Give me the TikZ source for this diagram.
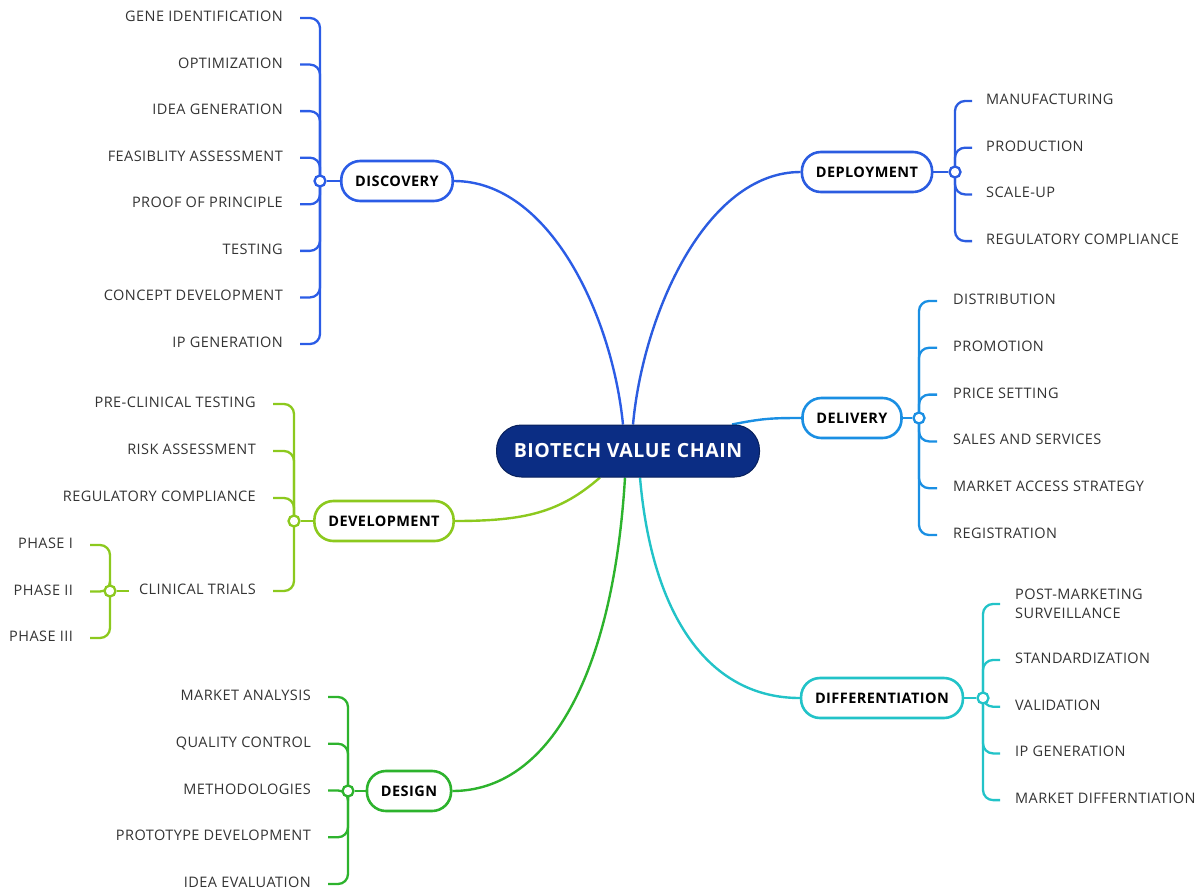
\documentclass[tikz,border=0pt]{standalone}
\usepackage{fontspec}
\setmainfont{Open Sans}[LetterSpace=3]
\usetikzlibrary{positioning,backgrounds,calc}
\definecolor{discov}{HTML}{2B5CE6}
\definecolor{deploy}{HTML}{2B5CE0}
\definecolor{deliv}{HTML}{1A8FE3}
\definecolor{differ}{HTML}{22C3C8}
\definecolor{design}{HTML}{2DB32D}
\definecolor{develop}{HTML}{8CC91E}
\definecolor{rootfill}{HTML}{0B2D84}
\definecolor{leaftext}{HTML}{333333}

\tikzset{
  root/.style={fill=rootfill, draw=rootfill!70!black, line width=1pt, rounded corners=25pt,
    minimum width=263pt, minimum height=52pt, text=white,
    font=\fontsize{19.5}{22}\selectfont\bfseries},
  topic/.style={draw=#1, line width=2.6pt, fill=white, rounded corners=19pt,
    minimum height=40pt, inner xsep=14pt, font=\fontsize{14.5}{16}\selectfont\bfseries},
  leaf/.style={inner sep=0pt, text=leaftext, text height=0.71em, text depth=0pt,
    font=\fontsize{14.5}{19}\selectfont},
  hub/.style={circle, draw=#1, line width=2.3pt, fill=white, minimum size=11pt, inner sep=0pt},
  branch/.style={draw=#1, line width=2.4pt},
  twig/.style={draw=#1, line width=2.3pt, rounded corners=10pt},
}

\begin{document}
\begin{tikzpicture}[x=1pt, y=-1pt]
  \useasboundingbox (0,0) rectangle (1203,892);

  % centre
  \node[root] (chain) at (628,451) {BIOTECH VALUE CHAIN};

  % main topics
  \node[topic=discov] (dis) at (397,181) {DISCOVERY};
  \node[topic=deploy] (dep) at (867,172) {DEPLOYMENT};
  \node[topic=deliv] (del) at (852,418) {DELIVERY};
  \node[topic=differ] (dif) at (882,698) {DIFFERENTIATION};
  \node[topic=design] (des) at (409,791) {DESIGN};
  \node[topic=develop] (dev) at (384,521) {DEVELOPMENT};

  % hubs
  \node[hub=discov] (jdis) at (320,181) {};
  \node[hub=deploy] (jdep) at (955,172) {};
  \node[hub=deliv] (jdel) at (919,418) {};
  \node[hub=differ] (jdif) at (983,698) {};
  \node[hub=design] (jdes) at (348,791) {};
  \node[hub=develop] (jdev) at (294,521) {};
  \node[hub=develop] (jct) at (110,591) {};

  % Discovery
  \foreach \t [count=\i] in {GENE IDENTIFICATION,OPTIMIZATION,IDEA GENERATION,
      FEASIBLITY ASSESSMENT,PROOF OF PRINCIPLE,TESTING,CONCEPT DEVELOPMENT,IP GENERATION} {
    \pgfmathsetmacro{\y}{18+46.57*(\i-1)}
    \node[leaf, anchor=east] (dis\i) at (283,\y) {\t};
  }

  % Deployment
  \foreach \t [count=\i] in {MANUFACTURING,PRODUCTION,SCALE-UP,REGULATORY COMPLIANCE} {
    \pgfmathsetmacro{\y}{101+46.7*(\i-1)}
    \node[leaf, anchor=west] (dep\i) at (986,\y) {\t};
  }

  % Delivery
  \foreach \t [count=\i] in {DISTRIBUTION,PROMOTION,PRICE SETTING,SALES AND SERVICES,
      MARKET ACCESS STRATEGY,REGISTRATION} {
    \pgfmathsetmacro{\y}{301+46.8*(\i-1)}
    \node[leaf, anchor=west] (del\i) at (953,\y) {\t};
  }

  % Differentiation
  \node[leaf, text height={}, text depth={}, align=left, anchor=west] (dif1) at (1015,604)
    {POST-MARKETING\\SURVEILLANCE};
  \foreach \t [count=\i from 2] in {STANDARDIZATION,VALIDATION,IP GENERATION,MARKET DIFFERNTIATION} {
    \pgfmathsetmacro{\y}{660+46.7*(\i-2)}
    \node[leaf, anchor=west] (dif\i) at (1015,\y) {\t};
  }

  % Design
  \foreach \t [count=\i] in {MARKET ANALYSIS,QUALITY CONTROL,METHODOLOGIES,
      PROTOTYPE DEVELOPMENT,IDEA EVALUATION} {
    \pgfmathsetmacro{\y}{697+46.75*(\i-1)}
    \node[leaf, anchor=east] (des\i) at (311,\y) {\t};
  }

  % Development
  \foreach \t [count=\i] in {PRE-CLINICAL TESTING,RISK ASSESSMENT,REGULATORY COMPLIANCE} {
    \pgfmathsetmacro{\y}{404+47*(\i-1)}
    \node[leaf, anchor=east] (dev\i) at (256,\y) {\t};
  }
  \node[leaf, anchor=east] (dev4) at (256,591) {CLINICAL TRIALS};
  \foreach \t [count=\i] in {PHASE I,PHASE II,PHASE III} {
    \pgfmathsetmacro{\y}{545+46.5*(\i-1)}
    \node[leaf, anchor=east] (ph\i) at (73,\y) {\t};
  }

  \begin{scope}[on background layer]
    % centre to topics
    \draw[branch=discov] (dis.east) .. controls +(95,0) and +(-11,-110) .. ([xshift=-5pt]chain.north);
    \draw[branch=deploy] (dep.west) .. controls +(-95,0) and +(10,-110) .. ([xshift=5pt]chain.north);
    \draw[branch=deliv] ([xshift=-28pt]chain.north east) .. controls +(30,-6) and +(-30,0) .. (del.west);
    \draw[branch=differ] ([xshift=12pt]chain.south) .. controls +(12,140) and +(-90,0) .. (dif.west);
    \draw[branch=design] ([xshift=-3pt]chain.south) .. controls +(-12,200) and +(95,0) .. (des.east);
    \draw[branch=develop] ([xshift=-28pt]chain.south) .. controls +(-40,35) and +(70,0) .. (dev.east);

    % topics to hubs
    \draw[branch=discov] (dis) -- (jdis);
    \draw[branch=deploy] (dep) -- (jdep);
    \draw[branch=deliv] (del) -- (jdel);
    \draw[branch=differ] (dif) -- (jdif);
    \draw[branch=design] (des) -- (jdes);
    \draw[branch=develop] (dev) -- (jdev);
    \draw[branch=develop] (jct) -- ([xshift=-10pt]dev4.west);

    % hubs to leaves
    \foreach \i in {1,...,8}
      \draw[twig=discov] (jdis.center) |- ([xshift=17pt]dis\i.east);
    \foreach \i in {1,...,4}
      \draw[twig=deploy] (jdep.center) |- ([xshift=-14pt]dep\i.west);
    \foreach \i in {1,...,6}
      \draw[twig=deliv] (jdel.center) |- ([xshift=-16pt]del\i.west);
    \foreach \i in {1,...,5}
      \draw[twig=differ] (jdif.center) |- ([xshift=-15pt]dif\i.west);
    \foreach \i in {1,...,5}
      \draw[twig=design] (jdes.center) |- ([xshift=17pt]des\i.east);
    \foreach \i in {1,...,4}
      \draw[twig=develop] (jdev.center) |- ([xshift=17pt]dev\i.east);
    \foreach \i in {1,...,3}
      \draw[twig=develop] (jct.center) |- ([xshift=17pt]ph\i.east);
  \end{scope}
\end{tikzpicture}
\end{document}
